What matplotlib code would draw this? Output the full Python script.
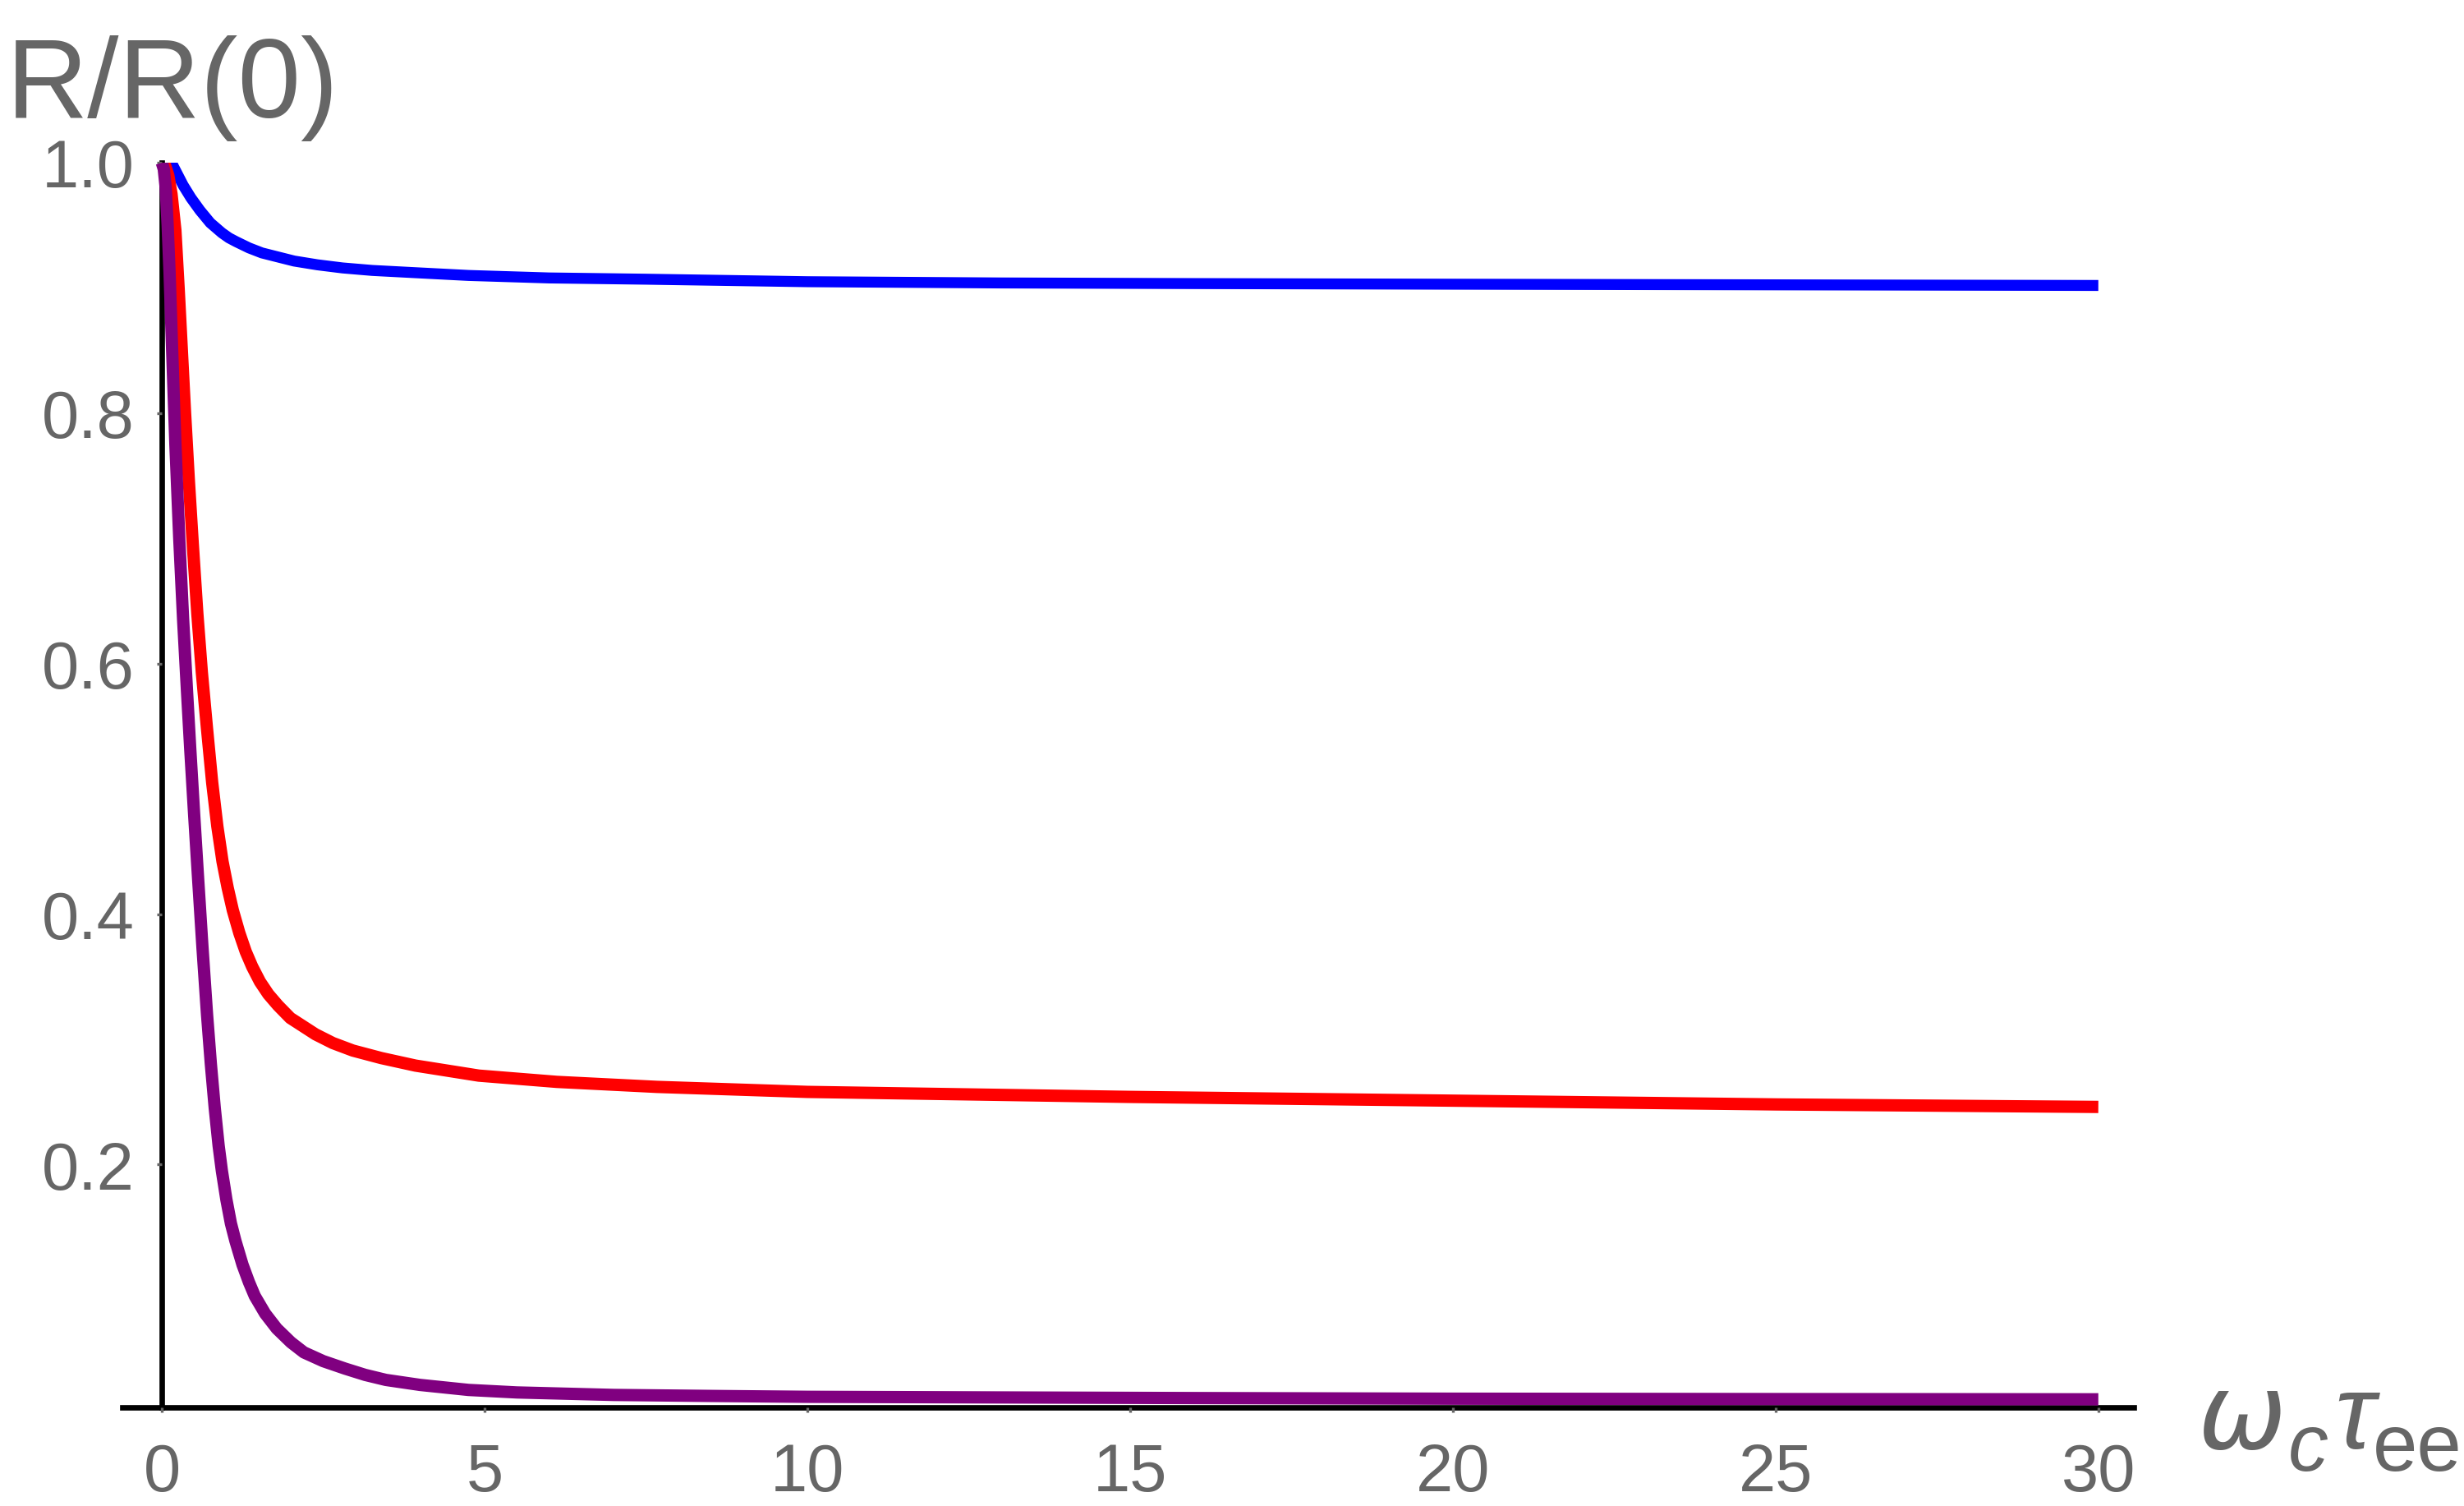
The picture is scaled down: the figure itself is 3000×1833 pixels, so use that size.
import matplotlib
matplotlib.use("Agg")
import matplotlib.pyplot as plt

# ---- data ----
x_blue = [0, 0.06, 0.12, 0.2, 0.27, 0.33, 0.39, 0.45, 0.52, 0.59, 0.67, 0.75, 0.84, 0.93, 1.04, 1.15,
          1.35, 1.55, 1.78, 2.05, 2.41, 2.8, 3.26, 4.0, 4.75, 6, 7.5, 10, 13, 16, 20, 25, 30]
y_blue = [1.0, 1.003, 1.003, 0.995, 0.988, 0.982, 0.977, 0.972, 0.967, 0.962, 0.957, 0.952, 0.948, 0.944,
          0.940, 0.937, 0.932, 0.928, 0.925, 0.9215, 0.9185, 0.916, 0.914, 0.912, 0.910, 0.908, 0.907,
          0.905, 0.904, 0.9035, 0.903, 0.9025, 0.902]

x_red = [0, 0.05, 0.1, 0.15, 0.21, 0.26, 0.31, 0.36, 0.42, 0.48, 0.55, 0.62, 0.70, 0.78, 0.86, 0.94,
         1.02, 1.1, 1.2, 1.3, 1.4, 1.52, 1.65, 1.8, 1.99, 2.2, 2.38, 2.65, 2.96, 3.4, 3.93, 4.91, 6.12,
         7.67, 10, 15, 20, 25, 30]
y_red = [1.0, 0.998, 0.99, 0.975, 0.946, 0.90, 0.85, 0.80, 0.745, 0.695, 0.64, 0.593, 0.548, 0.505,
         0.470, 0.442, 0.421, 0.403, 0.385, 0.370, 0.358, 0.346, 0.336, 0.327, 0.317, 0.310, 0.304,
         0.297, 0.291, 0.285, 0.279, 0.271, 0.266, 0.262, 0.258, 0.254, 0.251, 0.248, 0.246]

x_purple = [0, 0.03, 0.06, 0.09, 0.12, 0.16, 0.21, 0.27, 0.33, 0.39, 0.44, 0.5, 0.56, 0.63, 0.7, 0.76,
            0.82, 0.88, 0.93, 1.0, 1.07, 1.14, 1.25, 1.35, 1.44, 1.6, 1.78, 2.0, 2.2, 2.5, 2.84, 3.15,
            3.47, 4.0, 4.75, 5.5, 7, 8.5, 10, 13, 16, 20, 25, 30]
y_purple = [1.0, 0.995, 0.98, 0.95, 0.912, 0.85, 0.775, 0.70, 0.635, 0.578, 0.532, 0.48, 0.43, 0.373,
            0.32, 0.28, 0.245, 0.215, 0.195, 0.172, 0.153, 0.139, 0.12, 0.106, 0.095, 0.081, 0.069,
            0.058, 0.050, 0.043, 0.037, 0.032, 0.028, 0.024, 0.020, 0.018, 0.016, 0.0152, 0.0145,
            0.014, 0.0135, 0.013, 0.0127, 0.0125]

x_ticks = [0, 5, 10, 15, 20, 25, 30]
x_ticklabels = ["0", "5", "10", "15", "20", "25", "30"]
y_ticks = [0.2, 0.4, 0.6, 0.8, 1.0]
y_ticklabels = ["0.2", "0.4", "0.6", "0.8", "1.0"]

# ---- style ----
plt.rcParams['font.family'] = ['Liberation Sans', 'DejaVu Sans']
TXT = '#666666'
W, H = 3000, 1834

fig = plt.figure(figsize=(10, 6.113), dpi=300)
ax = fig.add_axes([0.0497, 0.0654, 0.8163, 0.8261])

ax.plot(x_blue, y_blue, color='#0000ff', lw=3.2, solid_capstyle='butt', solid_joinstyle='round')
ax.plot(x_red, y_red, color='#ff0000', lw=3.6, solid_capstyle='butt', solid_joinstyle='round')
ax.plot(x_purple, y_purple, color='#800080', lw=3.6, solid_capstyle='butt', solid_joinstyle='round')

ax.set_xlim(-0.61, 30.55)
ax.set_ylim(0.006, 1.0)

for s in ('top', 'right'):
    ax.spines[s].set_visible(False)
ax.spines['left'].set_position(('data', 0))
ax.spines['left'].set_linewidth(1.6)
ax.spines['bottom'].set_linewidth(1.6)
ax.spines['left'].set_zorder(1)
ax.spines['bottom'].set_zorder(1)

ax.set_xticks(x_ticks)
ax.set_xticklabels(x_ticklabels)
ax.set_yticks(y_ticks)
ax.set_yticklabels(y_ticklabels)
ax.tick_params(axis='both', colors=TXT, labelcolor=TXT, labelsize=19.5,
               length=1.5, width=0.8, direction='out')
ax.tick_params(axis='x', pad=8.5)
ax.tick_params(axis='y', pad=6.5)

# y-axis label
fig.text(8 / W, 1 - 143 / H, 'R/R(0)', color=TXT, fontsize=33,
         ha='left', va='baseline')

# x-axis label: ω_c τ_ee
fig.text(2676 / W, 1 - 1763 / H, '\u03c9', color=TXT, fontsize=31,
         family='DejaVu Sans', style='oblique', ha='left', va='baseline')
fig.text(2786 / W, 1 - 1790 / H, 'c', color=TXT, fontsize=23.5,
         family='Liberation Sans', style='italic', ha='left', va='baseline')
fig.text(2842 / W, 1 - 1763 / H, '\u03c4', color=TXT, fontsize=31,
         family='Liberation Sans', style='italic', ha='left', va='baseline')
fig.text(2889 / W, 1 - 1790 / H, 'ee', color=TXT, fontsize=23.5,
         family='Liberation Sans', ha='left', va='baseline')

fig.savefig('out.png', dpi=300, facecolor='white')
